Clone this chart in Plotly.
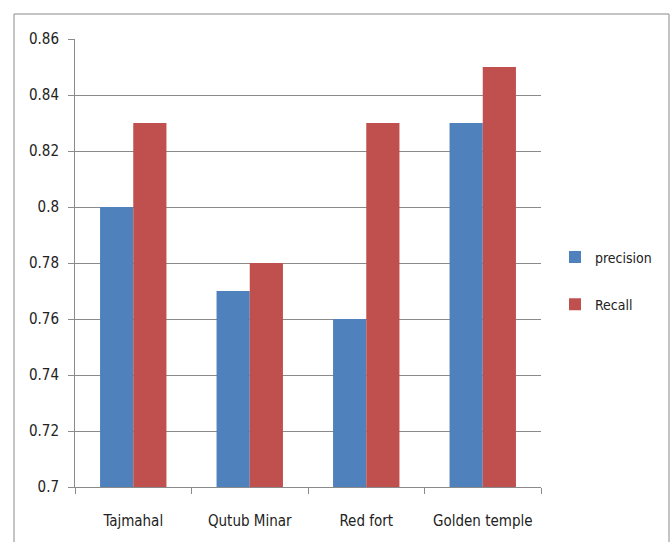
import plotly.graph_objects as go

categories = ["Tajmahal", "Qutub Minar", "Red fort", "Golden temple"]
precision = [0.80, 0.77, 0.76, 0.83]
recall = [0.83, 0.78, 0.83, 0.85]
y_ticks = [0.7, 0.72, 0.74, 0.76, 0.78, 0.8, 0.82, 0.84, 0.86]

FONT = "DejaVu Sans Condensed, Liberation Sans Narrow, Liberation Sans, Arial"

fig = go.Figure()
fig.add_trace(go.Bar(x=categories, y=precision, name="precision",
                     marker=dict(color="#4F81BD", line=dict(width=0)),
                     legendgroup="a"))
fig.add_trace(go.Bar(x=categories, y=recall, name="Recall",
                     marker=dict(color="#C0504D", line=dict(width=0)),
                     legendgroup="b"))

L, R, T, B = 75, 131, 39, 55
W, H = 672, 542
pw, ph = W - L - R, H - T - B

fig.update_layout(
    width=W, height=H,
    margin=dict(l=L, r=R, t=T, b=B, pad=0),
    paper_bgcolor="white", plot_bgcolor="white",
    barmode="group", bargap=0.43, bargroupgap=0,
    font=dict(family=FONT, size=14, color="#222"),
    showlegend=True,
    legend=dict(x=(555 - L) / pw, y=(487 - 281) / ph, xanchor="left", yanchor="middle",
                font=dict(size=14, family=FONT), tracegroupgap=26,
                itemwidth=30, bgcolor="rgba(0,0,0,0)"),
    yaxis=dict(range=[0.7, 0.86], tickvals=y_ticks, showgrid=True, gridcolor="#8a8a8a",
               gridwidth=1, showline=True, linecolor="#8a8a8a", linewidth=1,
               ticks="outside", ticklen=6, tickcolor="#8a8a8a", zeroline=False,
               ticklabelstandoff=6,
               tickfont=dict(size=15, family=FONT)),
    xaxis=dict(showline=True, linecolor="#8a8a8a", linewidth=1, ticks="outside",
               tickson="boundaries", ticklen=6, tickcolor="#8a8a8a",
               ticklabelstandoff=20,
               tickfont=dict(size=15, family=FONT)),
    shapes=[dict(type="rect", xref="paper", yref="paper",
                 x0=(14 - L) / pw, x1=(669 - L) / pw,
                 y0=(487 - 560) / ph, y1=(487 - 14) / ph,
                 line=dict(color="#8a8a8a", width=1), fillcolor="rgba(0,0,0,0)")],
)

fig.write_html("out.html")
